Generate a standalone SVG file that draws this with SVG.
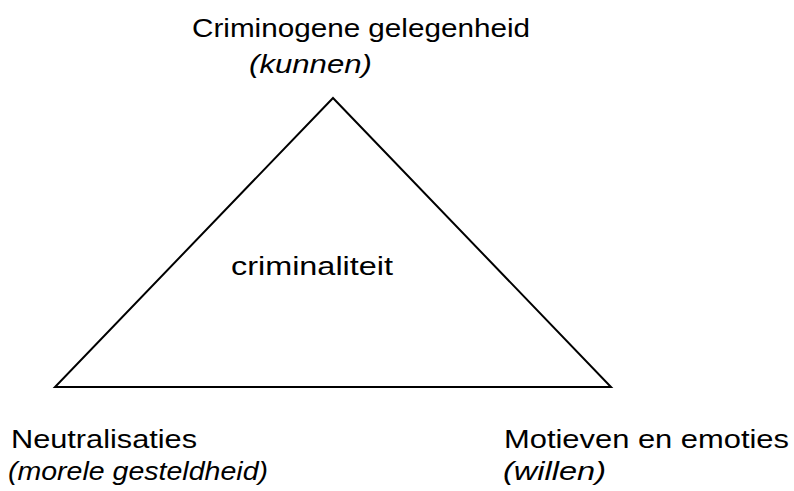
<svg xmlns="http://www.w3.org/2000/svg" width="794" height="491" viewBox="0 0 794 491">
<style>
text{font-family:"Liberation Sans",Arial,sans-serif;font-size:25px;fill:#000}
.i{font-style:italic}
</style>
<rect width="794" height="491" fill="#fff"/>
<g id="connectors">
<polygon points="333,98 55,387 611,387" fill="none" stroke="#000" stroke-width="2"/>
</g>
<g id="top">
<text x="192" y="37" textLength="338" lengthAdjust="spacingAndGlyphs">Criminogene gelegenheid</text>
<text class="i" x="249" y="73" textLength="123" lengthAdjust="spacingAndGlyphs">(kunnen)</text>
</g>
<g id="center">
<text x="231" y="275" textLength="162" lengthAdjust="spacingAndGlyphs">criminaliteit</text>
</g>
<g id="left">
<text x="11" y="448" textLength="186" lengthAdjust="spacingAndGlyphs">Neutralisaties</text>
<text class="i" x="8" y="480" textLength="260" lengthAdjust="spacingAndGlyphs">(morele gesteldheid)</text>
</g>
<g id="right">
<text x="504" y="448" textLength="285" lengthAdjust="spacingAndGlyphs">Motieven en emoties</text>
<text class="i" x="503" y="480" textLength="103" lengthAdjust="spacingAndGlyphs">(willen)</text>
</g>
</svg>
